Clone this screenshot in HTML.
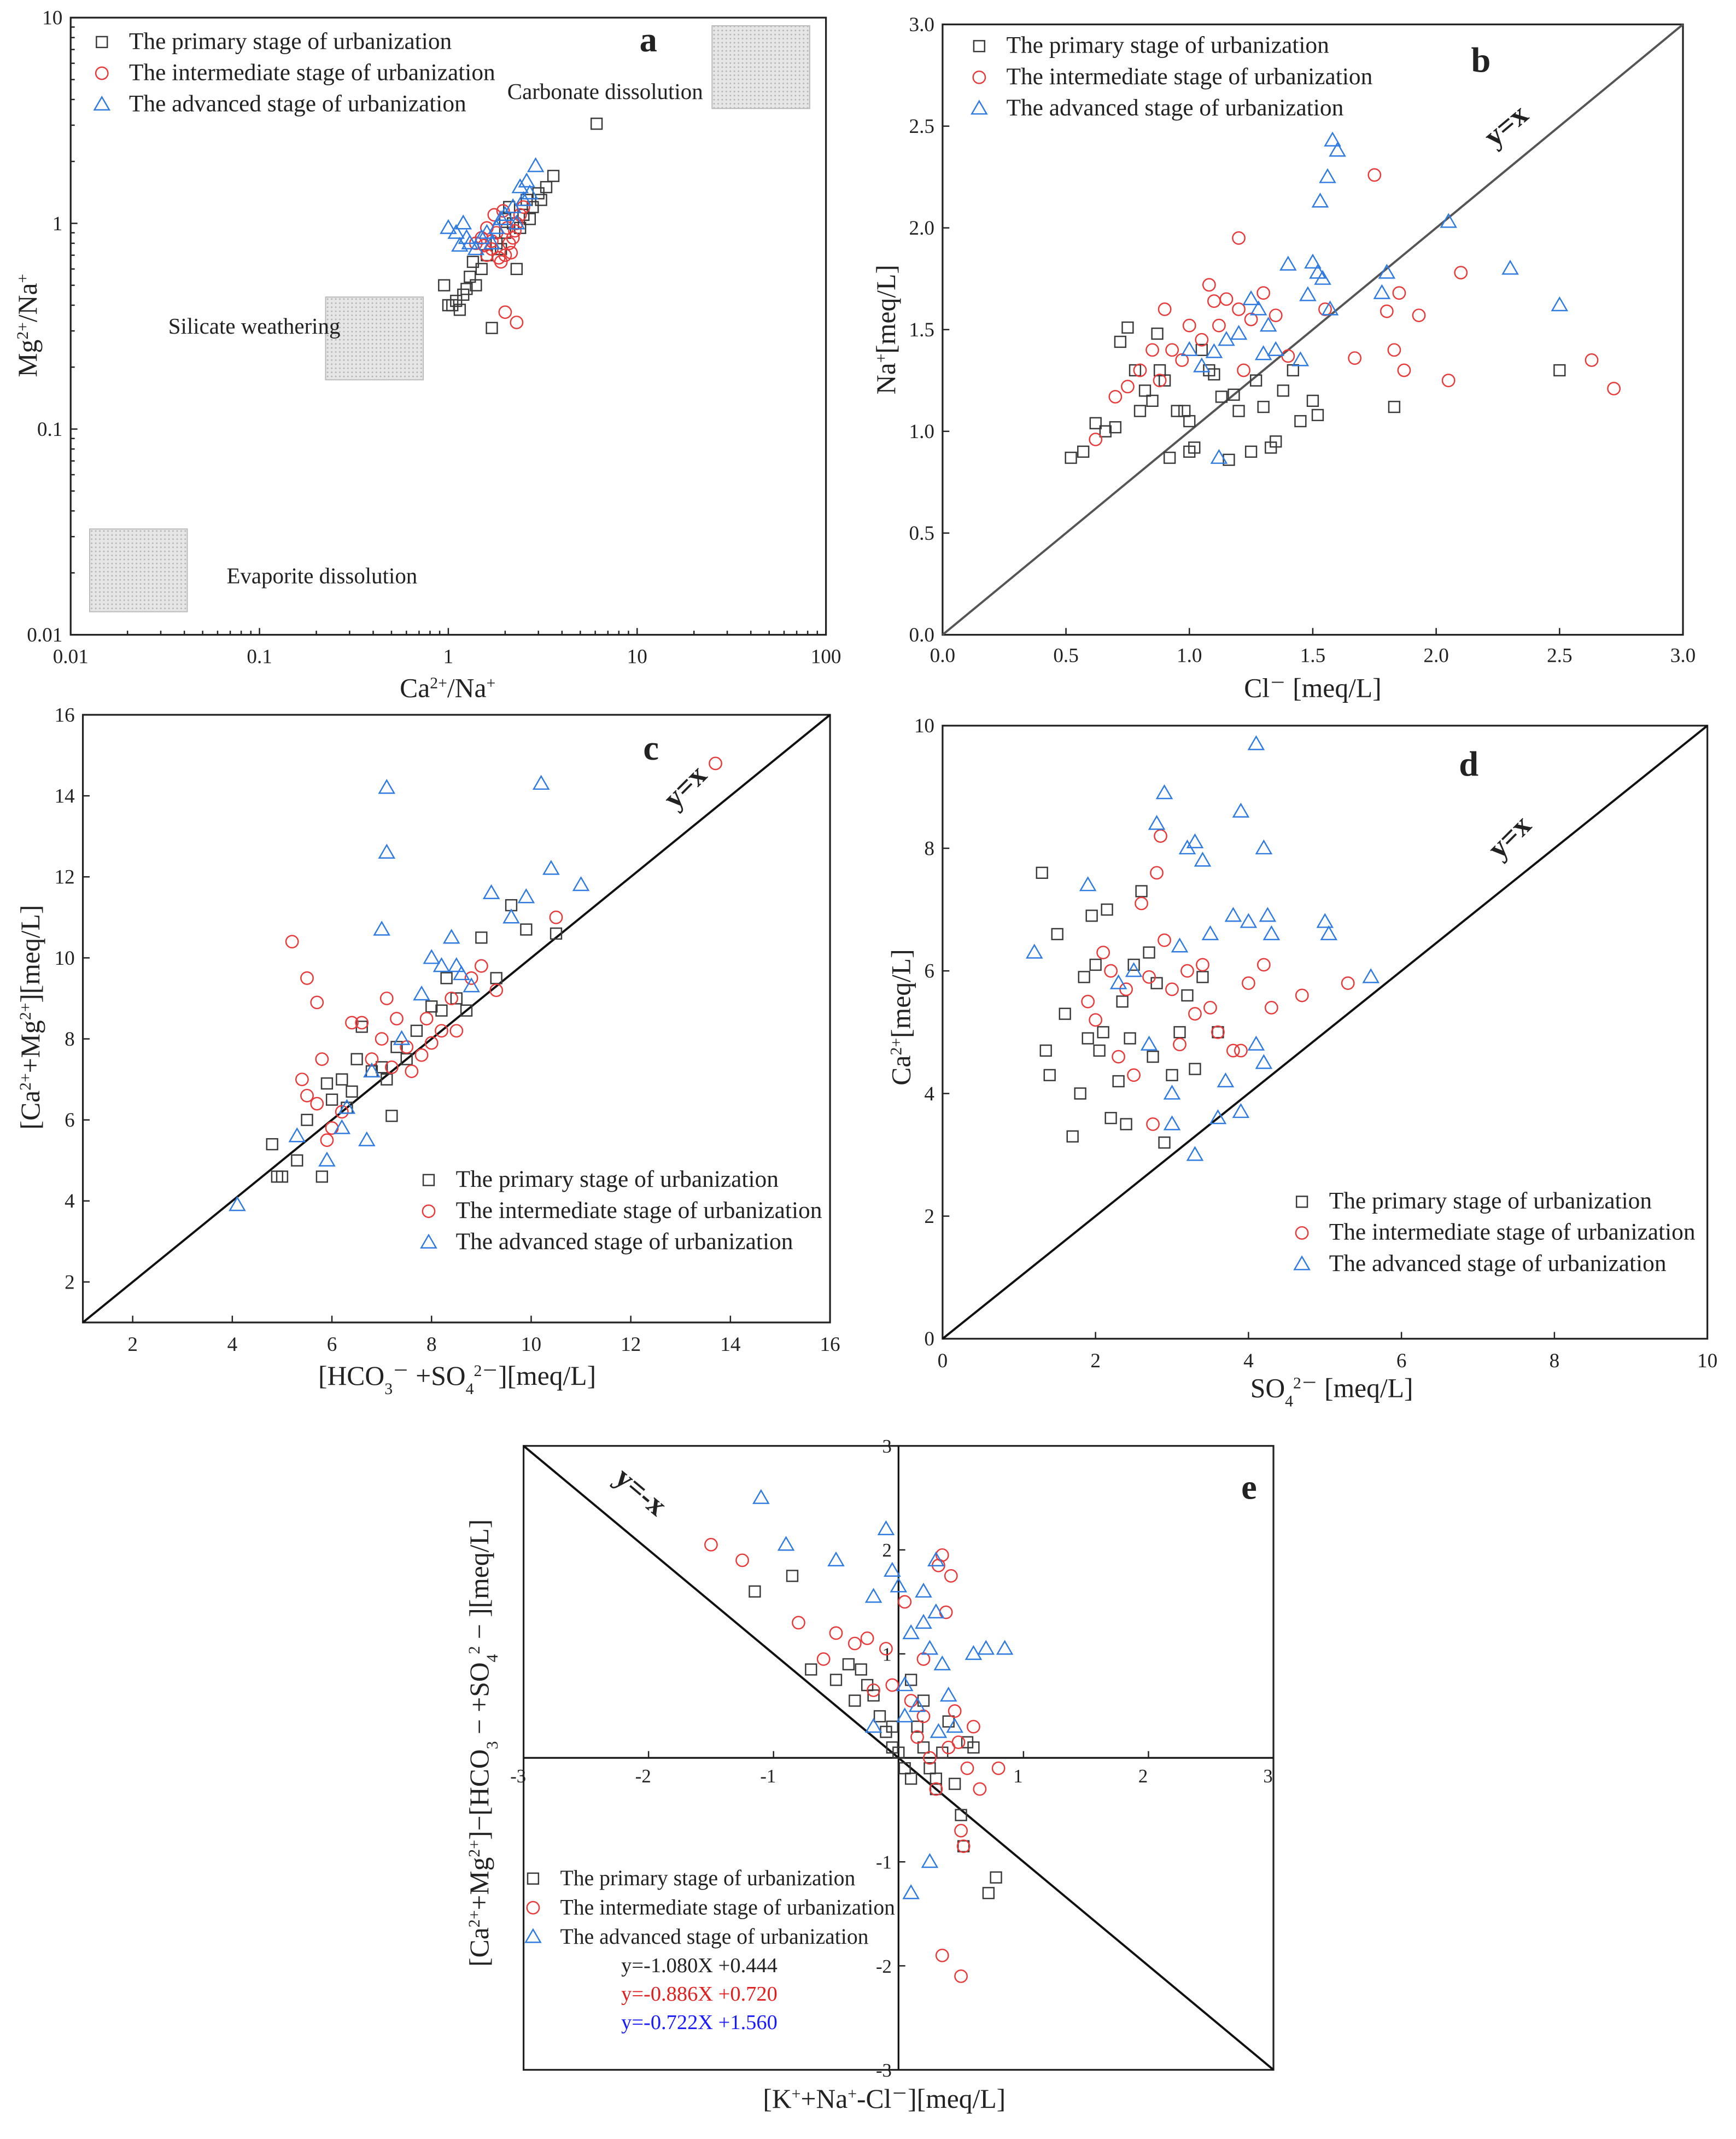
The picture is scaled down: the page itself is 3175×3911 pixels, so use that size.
<!DOCTYPE html>
<html><head><meta charset="utf-8"><style>
html,body{margin:0;padding:0;background:#fff}
svg{display:block}
text{font-family:"Liberation Serif",serif;fill:#222}
</style></head><body>
<svg id="s" xmlns="http://www.w3.org/2000/svg" width="3175" height="3911" viewBox="0 0 1280 1577">
<defs>
<pattern id="dots" width="3" height="3" patternUnits="userSpaceOnUse"><rect width="3" height="3" fill="#e6e6e6"/><circle cx="1.5" cy="1.5" r="0.6" fill="#b5b5b5"/></pattern>
</defs>
</svg>
<script>
// ---------- data ----------
// Panel a: [Ca/Na, Mg/Na]
const aPrimary=[[1,0.4],[1.1,0.42],[1.2,0.45],[0.95,0.5],[1.3,0.55],[1.5,0.6],[1.4,0.5],[1.6,0.7],[1.8,0.8],[2,0.9],[2.2,1],[2.5,1.1],[2.8,1.2],[3,1.4],[3.3,1.5],[3.6,1.7],[2.3,0.6],[1.7,0.31],[6.1,3.05],[2.6,1.3],[1.15,0.38],[1.05,0.4],[2.1,1.2],[1.9,0.75],[1.25,0.48],[2.4,0.95],[2.7,1.05],[3.1,1.3],[1.35,0.65],[2.0,1.05]];
const aIntermediate=[[1.4,0.8],[1.5,0.85],[1.6,0.7],[1.7,0.75],[1.8,0.9],[1.9,0.65],[2,0.7],[2.1,0.8],[2.2,0.85],[2.3,1],[2.4,1.1],[1.75,1.1],[1.6,0.95],[2.05,0.95],[1.95,1.15],[2.5,1.2],[1.85,0.68],[2.15,0.72],[2.0,0.37],[2.3,0.33],[1.55,0.78],[2.25,0.92],[1.7,0.82]];
const aAdvanced=[[1.1,0.9],[1.2,1],[1.3,0.8],[1.5,0.85],[1.8,0.95],[2,1.1],[2.5,1.3],[2.9,1.9],[2.2,1.2],[1.4,0.75],[1.7,0.8],[2.4,1.5],[2.7,1.4],[1.6,0.9],[1.15,0.78],[1.0,0.95],[2.3,1.0],[1.9,1.05],[2.6,1.6],[1.25,0.85]];
// Panel b: [Cl, Na]
const bPrimary=[[0.52,0.87],[0.57,0.9],[0.62,1.04],[0.66,1.0],[0.7,1.02],[0.72,1.44],[0.75,1.51],[0.78,1.3],[0.8,1.1],[0.82,1.2],[0.85,1.15],[0.88,1.3],[0.9,1.25],[0.92,0.87],[0.95,1.1],[0.98,1.1],[1.0,1.05],[1.02,0.92],[1.05,1.4],[1.08,1.3],[1.1,1.28],[1.13,1.17],[1.16,0.86],[1.2,1.1],[1.25,0.9],[1.27,1.25],[1.3,1.12],[1.33,0.92],[1.35,0.95],[1.38,1.2],[1.42,1.3],[1.45,1.05],[1.5,1.15],[1.52,1.08],[1.83,1.12],[2.5,1.3],[0.87,1.48],[1.0,0.9],[1.18,1.18]];
const bIntermediate=[[0.62,0.96],[0.7,1.17],[0.75,1.22],[0.8,1.3],[0.85,1.4],[0.9,1.6],[0.93,1.4],[0.97,1.35],[1.0,1.52],[1.05,1.45],[1.08,1.72],[1.1,1.64],[1.15,1.65],[1.2,1.95],[1.22,1.3],[1.25,1.55],[1.3,1.68],[1.35,1.57],[1.4,1.37],[1.2,1.6],[1.12,1.52],[1.67,1.36],[1.75,2.26],[1.8,1.59],[1.85,1.68],[1.83,1.4],[1.87,1.3],[1.93,1.57],[2.05,1.25],[2.1,1.78],[2.63,1.35],[2.72,1.21],[1.55,1.6],[0.88,1.25]];
const bAdvanced=[[1.0,1.4],[1.05,1.32],[1.1,1.39],[1.12,0.87],[1.15,1.45],[1.2,1.48],[1.25,1.65],[1.28,1.6],[1.3,1.38],[1.32,1.52],[1.35,1.4],[1.4,1.82],[1.45,1.35],[1.5,1.83],[1.52,1.78],[1.54,1.75],[1.53,2.13],[1.56,2.25],[1.58,2.43],[1.6,2.38],[1.57,1.6],[1.8,1.78],[1.78,1.68],[2.05,2.03],[2.3,1.8],[2.5,1.62],[1.48,1.67]];
// Panel c: [HCO3+SO4, Ca+Mg]
const cPrimary=[[4.8,5.4],[4.9,4.6],[5.0,4.6],[5.3,5.0],[5.5,6.0],[5.8,4.6],[5.9,6.9],[6.0,6.5],[6.2,7.0],[6.3,6.3],[6.5,7.5],[6.6,8.3],[6.8,7.2],[7.0,7.3],[7.2,6.1],[7.3,7.8],[7.5,7.5],[7.7,8.2],[8.0,8.8],[8.2,8.7],[8.5,9.0],[8.7,8.7],[9.0,10.5],[9.3,9.5],[9.6,11.3],[9.9,10.7],[10.5,10.6],[8.3,9.5],[6.4,6.7],[7.1,7.0]];
const cIntermediate=[[5.2,10.4],[5.5,9.5],[5.7,8.9],[5.4,7.0],[5.5,6.6],[5.7,6.4],[5.8,7.5],[5.9,5.5],[6.0,5.8],[6.2,6.2],[6.4,8.4],[6.6,8.4],[6.8,7.5],[7.0,8.0],[7.1,9.0],[7.3,8.5],[7.5,7.8],[7.6,7.2],[7.8,7.6],[7.9,8.5],[8.0,7.9],[8.2,8.2],[8.4,9.0],[8.5,8.2],[8.8,9.5],[9.0,9.8],[9.3,9.2],[10.5,11.0],[13.7,14.8],[7.2,7.3]];
const cAdvanced=[[4.1,3.9],[5.3,5.6],[5.9,5.0],[6.2,5.8],[6.7,5.5],[6.8,7.2],[7.0,10.7],[7.1,12.6],[7.1,14.2],[7.4,8.0],[7.8,9.1],[8.0,10.0],[8.2,9.8],[8.4,10.5],[8.6,9.6],[8.8,9.3],[9.2,11.6],[9.6,11.0],[9.9,11.5],[10.2,14.3],[10.4,12.2],[11.0,11.8],[8.5,9.8],[6.3,6.3]];
// Panel d: [SO4, Ca]
const dPrimary=[[1.3,7.6],[1.35,4.7],[1.4,4.3],[1.5,6.6],[1.6,5.3],[1.7,3.3],[1.8,4.0],[1.85,5.9],[1.9,4.9],[2.0,6.1],[2.05,4.7],[2.1,5.0],[2.15,7.0],[2.2,3.6],[2.3,4.2],[2.35,5.5],[2.4,3.5],[2.5,6.1],[2.6,7.3],[2.7,6.3],[2.75,4.6],[2.8,5.8],[2.9,3.2],[3.0,4.3],[3.1,5.0],[3.2,5.6],[3.3,4.4],[3.4,5.9],[3.6,5.0],[2.45,4.9],[1.95,6.9]];
const dIntermediate=[[1.9,5.5],[2.0,5.2],[2.1,6.3],[2.2,6.0],[2.3,4.6],[2.4,5.7],[2.5,4.3],[2.6,7.1],[2.7,5.9],[2.75,3.5],[2.8,7.6],[2.85,8.2],[2.9,6.5],[3.0,5.7],[3.1,4.8],[3.2,6.0],[3.3,5.3],[3.4,6.1],[3.5,5.4],[3.6,5.0],[3.8,4.7],[4.0,5.8],[4.2,6.1],[4.3,5.4],[4.7,5.6],[5.3,5.8],[3.9,4.7]];
const dAdvanced=[[1.2,6.3],[1.9,7.4],[2.3,5.8],[2.5,6.0],[2.7,4.8],[2.8,8.4],[2.9,8.9],[3.0,3.5],[3.1,6.4],[3.2,8.0],[3.3,8.1],[3.4,7.8],[3.5,6.6],[3.6,3.6],[3.3,3.0],[3.7,4.2],[3.8,6.9],[3.9,8.6],[4.0,6.8],[4.1,9.7],[4.2,8.0],[4.25,6.9],[4.3,6.6],[4.1,4.8],[4.2,4.5],[3.9,3.7],[5.0,6.8],[5.05,6.6],[5.6,5.9],[3.0,4.0]];
// Panel e: [K+Na-Cl, (Ca+Mg)-(HCO3+SO4)]
const ePrimary=[[-1.15,1.6],[-0.85,1.75],[-0.7,0.85],[-0.5,0.75],[-0.4,0.9],[-0.35,0.55],[-0.3,0.85],[-0.25,0.7],[-0.2,0.6],[-0.15,0.4],[-0.1,0.25],[-0.05,0.1],[0,0.05],[0.05,-0.1],[0.1,-0.2],[0.15,0.3],[0.2,0.1],[0.25,-0.1],[0.3,-0.3],[0.35,0.05],[0.4,0.35],[0.45,-0.25],[0.5,-0.55],[0.52,-0.85],[0.55,0.15],[0.6,0.1],[0.72,-1.3],[0.78,-1.15],[0.1,0.75],[-0.05,0.3],[0.2,0.55],[0.3,-0.2]];
const eIntermediate=[[-1.5,2.05],[-1.25,1.9],[-0.8,1.3],[-0.6,0.95],[-0.5,1.2],[-0.35,1.1],[-0.25,1.15],[-0.2,0.65],[-0.1,1.05],[-0.05,0.7],[0.05,1.5],[0.1,0.55],[0.15,0.2],[0.2,0.4],[0.25,0.0],[0.3,-0.3],[0.32,1.85],[0.35,1.95],[0.38,1.4],[0.42,1.75],[0.45,0.45],[0.48,0.15],[0.5,-0.7],[0.52,-0.85],[0.55,-0.1],[0.6,0.3],[0.65,-0.3],[0.8,-0.1],[0.35,-1.9],[0.5,-2.1],[0.2,0.95],[0.4,0.1]];
const eAdvanced=[[-1.1,2.5],[-0.9,2.05],[-0.5,1.9],[-0.2,1.55],[-0.1,2.2],[-0.05,1.8],[0,1.65],[0.05,0.7],[0.1,1.2],[0.15,0.5],[0.2,1.3],[0.25,1.05],[0.3,1.9],[0.32,0.25],[0.35,0.9],[0.4,0.6],[0.45,0.3],[0.6,1.0],[0.7,1.05],[0.85,1.05],[0.25,-1.0],[0.1,-1.3],[-0.2,0.3],[0.2,1.6],[0.3,1.4],[0.05,0.4]];

// ---------- helpers ----------
const S=document.getElementById('s');const NS='http://www.w3.org/2000/svg';
function el(t,a,p){const e=document.createElementNS(NS,t);for(const k in a)e.setAttribute(k,a[k]);(p||S).appendChild(e);return e;}
function txt(x,y,str,size,anchor,p,extra){const e=el('text',Object.assign({x:x,y:y,'font-size':size,'text-anchor':anchor||'middle'},extra||{}),p);e.innerHTML=str;return e;}
const COL={p:'#3a3a3a',i:'#e83a3a',a:'#2f7be0'};
function marker(kind,x,y,p){
  let m;
  if(kind==='p')m=el('rect',{x:x-4,y:y-4,width:8,height:8,fill:'none',stroke:COL.p,'stroke-width':1},p);
  else if(kind==='i')m=el('circle',{cx:x,cy:y,r:4.5,fill:'none',stroke:COL.i,'stroke-width':1},p);
  else m=el('path',{d:`M${x},${y-5.5}L${x+5.5},${y+4}L${x-5.5},${y+4}Z`,fill:'none',stroke:COL.a,'stroke-width':1},p);
  return m;
}
function series(p,data,kind,fx,fy,name){
  const g=el('g',{},p);
  
  
  data.forEach(d=>{const m=marker(kind,fx(d[0]),fy(d[1]),g);
    
    });
}
function legend(p,x,y,dy,size){
  const names=['The primary stage of urbanization','The intermediate stage of urbanization','The advanced stage of urbanization'];
  const g=el('g',{},p);
  
  
  ['p','i','a'].forEach((k,j)=>{marker(k,x,y+j*dy,g);
    const t=txt(x+20,y+j*dy+5,names[j],size,'start',g);
    
    });
}
function panel(name){const g=el('g',{});return g;}
function frame(g,x0,y0,x1,y1){el('rect',{x:x0,y:y0,width:x1-x0,height:y1-y0,fill:'none',stroke:'#222','stroke-width':1.3},g);}

// ---------- panel a ----------
(function(){
  const g=panel('panel-a');const X0=52,X1=609,Y0=13,Y1=468;
  const fx=v=>X0+(Math.log10(v)+2)*(X1-X0)/4, fy=v=>Y1-(Math.log10(v)+2)*(Y1-Y0)/3;
  [['Carbonate dissolution',525,19],['Silicate weathering',240,219],['Evaporite dissolution',66,390]].forEach(b=>{
    const r=el('rect',{x:b[1],y:b[2],width:72,height:61,fill:'url(#dots)',stroke:'#bbb','stroke-width':0.8},g);
    });
  frame(g,X0,Y0,X1,Y1);
  const xt=['0.01','0.1','1','10','100'];
  xt.forEach(t=>{const x=fx(+t);el('line',{x1:x,y1:Y1,x2:x,y2:Y1-5,stroke:'#222'},g);txt(x,Y1+21,t,15,'middle',g);});
  const yt=['0.01','0.1','1','10'];
  yt.forEach(t=>{const y=fy(+t);el('line',{x1:X0,y1:y,x2:X0+5,y2:y,stroke:'#222'},g);txt(X0-6,y+5,t,15,'end',g);});
  for(let d=-2;d<2;d++)for(let k=2;k<10;k++){const x=fx(k*Math.pow(10,d));el('line',{x1:x,y1:Y1,x2:x,y2:Y1-3,stroke:'#222'},g);}
  for(let d=-2;d<1;d++)for(let k=2;k<10;k++){const y=fy(k*Math.pow(10,d));el('line',{x1:X0,y1:y,x2:X0+3,y2:y,stroke:'#222'},g);}
  txt(374,73,'Carbonate dissolution',16.5,'start',g);
  txt(124,246,'Silicate weathering',16.5,'start',g);
  txt(167,430,'Evaporite dissolution',16.5,'start',g);
  series(g,aPrimary,'p',fx,fy,'primary-series');series(g,aIntermediate,'i',fx,fy,'intermediate-series');series(g,aAdvanced,'a',fx,fy,'advanced-series');
  legend(g,75,31,23,17.5);
  txt(478,38,'a',26,'middle',g,{'font-weight':'bold'});
  txt(330,514,'Ca<tspan baseline-shift="super" font-size="12">2+</tspan>/Na<tspan baseline-shift="super" font-size="12">+</tspan>',20,'middle',g);
  txt(0,0,'Mg<tspan baseline-shift="super" font-size="12">2+</tspan>/Na<tspan baseline-shift="super" font-size="12">+</tspan>',20,'middle',g,{transform:'translate(27,240) rotate(-90)'});
})();

// ---------- panel b ----------
(function(){
  const g=panel('panel-b');const X0=695,X1=1241,Y0=18,Y1=468;
  const fx=v=>X0+v/3*(X1-X0), fy=v=>Y1-v/3*(Y1-Y0);
  frame(g,X0,Y0,X1,Y1);
  ['0.0','0.5','1.0','1.5','2.0','2.5','3.0'].forEach(t=>{const x=fx(+t),y=fy(+t);
    el('line',{x1:x,y1:Y1,x2:x,y2:Y1-5,stroke:'#222'},g);txt(x,Y1+20,t,15,'middle',g);
    el('line',{x1:X0,y1:y,x2:X0+5,y2:y,stroke:'#222'},g);txt(X0-6,y+5,t,15,'end',g);});
  el('line',{x1:fx(0),y1:fy(0),x2:fx(3),y2:fy(3),stroke:'#555','stroke-width':1.6},g);
  series(g,bPrimary,'p',fx,fy,'primary-series');series(g,bIntermediate,'i',fx,fy,'intermediate-series');series(g,bAdvanced,'a',fx,fy,'advanced-series');
  legend(g,722,34,23,17.5);
  txt(1092,53,'b',26,'middle',g,{'font-weight':'bold'});
  txt(0,0,'y=x',22,'middle',g,{'font-weight':'bold',transform:'translate(1115,98) rotate(-40)'});
  txt(968,514,'Cl<tspan baseline-shift="super" font-size="12">－</tspan> [meq/L]',20,'middle',g);
  txt(0,0,'Na<tspan baseline-shift="super" font-size="12">+</tspan>[meq/L]',20,'middle',g,{transform:'translate(660,243) rotate(-90)'});
})();

// ---------- panel c ----------
(function(){
  const g=panel('panel-c');const X0=61,X1=612,Y0=527,Y1=975;
  const fx=v=>X0+(v-1)/15*(X1-X0), fy=v=>Y1-(v-1)/15*(Y1-Y0);
  frame(g,X0,Y0,X1,Y1);
  ['2','4','6','8','10','12','14','16'].forEach(t=>{const x=fx(+t),y=fy(+t);
    el('line',{x1:x,y1:Y1,x2:x,y2:Y1-5,stroke:'#222'},g);txt(x,Y1+21,t,15,'middle',g);
    el('line',{x1:X0,y1:y,x2:X0+5,y2:y,stroke:'#222'},g);txt(X0-6,y+5,t,15,'end',g);});
  el('line',{x1:fx(1),y1:fy(1),x2:fx(16),y2:fy(16),stroke:'#111','stroke-width':1.6},g);
  series(g,cPrimary,'p',fx,fy,'primary-series');series(g,cIntermediate,'i',fx,fy,'intermediate-series');series(g,cAdvanced,'a',fx,fy,'advanced-series');
  legend(g,316,870,23,17.5);
  txt(480,560,'c',26,'middle',g,{'font-weight':'bold'});
  txt(0,0,'y=x',22,'middle',g,{'font-weight':'bold',transform:'translate(510,585) rotate(-45)'});
  txt(337,1021,'[HCO<tspan baseline-shift="sub" font-size="12">3</tspan><tspan baseline-shift="super" font-size="12">－</tspan> +SO<tspan baseline-shift="sub" font-size="12">4</tspan><tspan baseline-shift="super" font-size="12">2－</tspan>][meq/L]',20,'middle',g);
  txt(0,0,'[Ca<tspan baseline-shift="super" font-size="12">2+</tspan>+Mg<tspan baseline-shift="super" font-size="12">2+</tspan>][meq/L]',20,'middle',g,{transform:'translate(29,750) rotate(-90)'});
})();

// ---------- panel d ----------
(function(){
  const g=panel('panel-d');const X0=695,X1=1259,Y0=535,Y1=987;
  const fx=v=>X0+v/10*(X1-X0), fy=v=>Y1-v/10*(Y1-Y0);
  frame(g,X0,Y0,X1,Y1);
  ['0','2','4','6','8','10'].forEach(t=>{const x=fx(+t),y=fy(+t);
    el('line',{x1:x,y1:Y1,x2:x,y2:Y1-5,stroke:'#222'},g);txt(x,Y1+21,t,15,'middle',g);
    el('line',{x1:X0,y1:y,x2:X0+5,y2:y,stroke:'#222'},g);txt(X0-6,y+5,t,15,'end',g);});
  el('line',{x1:fx(0),y1:fy(0),x2:fx(10),y2:fy(10),stroke:'#111','stroke-width':1.6},g);
  series(g,dPrimary,'p',fx,fy,'primary-series');series(g,dIntermediate,'i',fx,fy,'intermediate-series');series(g,dAdvanced,'a',fx,fy,'advanced-series');
  legend(g,960,886,23,17.5);
  txt(1083,572,'d',26,'middle',g,{'font-weight':'bold'});
  txt(0,0,'y=x',22,'middle',g,{'font-weight':'bold',transform:'translate(1118,622) rotate(-45)'});
  txt(982,1030,'SO<tspan baseline-shift="sub" font-size="12">4</tspan><tspan baseline-shift="super" font-size="12">2－</tspan> [meq/L]',20,'middle',g);
  txt(0,0,'Ca<tspan baseline-shift="super" font-size="12">2+</tspan>[meq/L]',20,'middle',g,{transform:'translate(671,750) rotate(-90)'});
})();

// ---------- panel e ----------
(function(){
  const g=panel('panel-e');const X0=386,X1=939,Y0=1066,Y1=1526;
  const fx=v=>X0+(v+3)/6*(X1-X0), fy=v=>Y1-(v+3)/6*(Y1-Y0);
  frame(g,X0,Y0,X1,Y1);
  el('line',{x1:X0,y1:fy(0),x2:X1,y2:fy(0),stroke:'#111','stroke-width':1.3},g);
  el('line',{x1:fx(0),y1:Y0,x2:fx(0),y2:Y1,stroke:'#111','stroke-width':1.3},g);
  ['-3','-2','-1','1','2','3'].forEach(t=>{const x=fx(+t),y=fy(+t);
    el('line',{x1:x,y1:fy(0),x2:x,y2:fy(0)-5,stroke:'#222'},g);txt(x-4,fy(0)+18,t,14,'middle',g);
    el('line',{x1:fx(0),y1:y,x2:fx(0)+5,y2:y,stroke:'#222'},g);txt(fx(0)-5,y+5,t,14,'end',g);});
  el('line',{x1:fx(-3),y1:fy(3),x2:fx(3),y2:fy(-3),stroke:'#111','stroke-width':1.6},g);
  series(g,ePrimary,'p',fx,fy,'primary-series');series(g,eIntermediate,'i',fx,fy,'intermediate-series');series(g,eAdvanced,'a',fx,fy,'advanced-series');
  legend(g,393,1385,21.5,16);
  txt(458,1454,'y=-1.080X +0.444',15.5,'start',g,{style:'fill:#222'});
  txt(458,1475,'y=-0.886X +0.720',15.5,'start',g,{style:'fill:#e02020'});
  txt(458,1496,'y=-0.722X +1.560',15.5,'start',g,{style:'fill:#1a1aff'});
  txt(921,1105,'e',26,'middle',g,{'font-weight':'bold'});
  txt(0,0,'y=-x',22,'middle',g,{'font-weight':'bold',transform:'translate(468,1105) rotate(40)'});
  txt(652,1554,'[K<tspan baseline-shift="super" font-size="12">+</tspan>+Na<tspan baseline-shift="super" font-size="12">+</tspan>-Cl<tspan baseline-shift="super" font-size="12">－</tspan>][meq/L]',20,'middle',g);
  txt(0,0,'[Ca<tspan baseline-shift="super" font-size="12">2+</tspan>+Mg<tspan baseline-shift="super" font-size="12">2+</tspan>]−[HCO<tspan baseline-shift="sub" font-size="12">3</tspan> − +SO<tspan baseline-shift="sub" font-size="12">4</tspan><tspan baseline-shift="super" font-size="12">2</tspan> − ][meq/L]',20,'middle',g,{transform:'translate(360,1285) rotate(-90)'});
})();
</script>
</body></html>
